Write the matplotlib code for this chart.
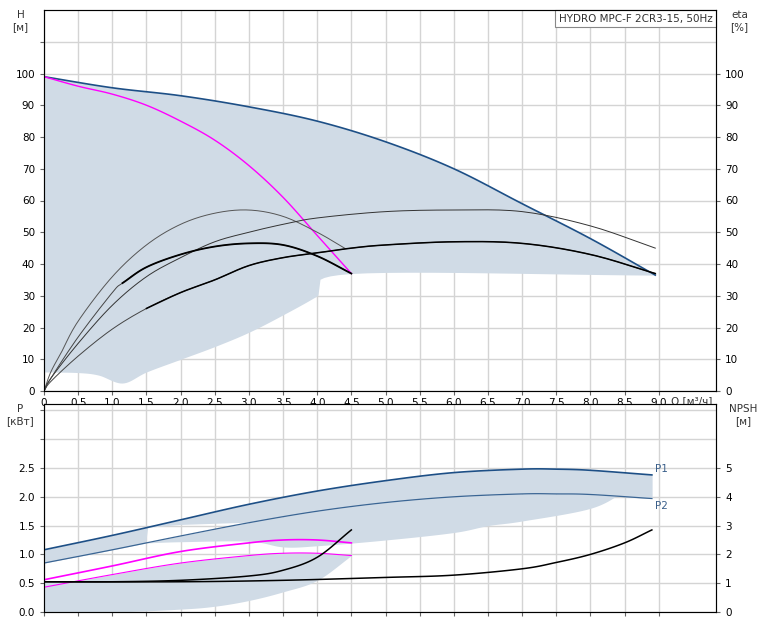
import matplotlib
matplotlib.use("Agg")
import matplotlib.pyplot as plt
import numpy as np

# ---- data (top: H and eta) ----
q_env = [0, 1, 2, 3, 4, 5, 6, 7, 8, 8.95]
h_max = [99, 95.5, 93, 89.5, 85, 78.5, 70, 59, 48, 36.5]
q_low = [0, 0.5, 0.8, 1.15, 1.5, 2, 2.5, 3, 3.5, 4, 4.5, 8.95]
h_low = [6, 5.8, 5, 2.5, 6, 10, 14, 18.5, 24, 30, 37, 36.5]
q_mag = [0, 0.5, 1, 1.5, 2, 2.5, 3, 3.5, 4, 4.5]
h_mag = [99, 96, 93.5, 90, 85, 79, 71, 61, 49, 37]
q_eA = [0, 0.1, 0.25, 0.5, 1, 1.5, 2, 2.5, 3, 3.5, 4, 4.4]
e_A = [0, 6, 12, 22, 36, 46, 52.5, 56, 57, 55, 50, 45]
q_eB = [0, 0.1, 0.5, 1, 1.5, 2, 2.5, 3, 3.5, 4, 5, 6, 7, 8, 8.95]
e_B = [0, 4, 15, 27, 36, 42, 47, 50, 52.5, 54.5, 56.5, 57, 56.5, 52, 45]
q_eC = [0, 0.1, 0.5, 1, 1.5, 2, 2.5, 3, 3.5, 4, 4.5, 5, 6, 7, 8, 8.95]
e_C = [0, 3, 11, 19.5, 26, 31, 35, 39.5, 42, 43.5, 45, 46, 47, 46.5, 43, 37]
q_eE = [0, 0.1, 0.5, 1, 1.15, 1.5, 2, 2.5, 3, 3.5, 4, 4.5]
e_E = [0, 4, 17, 31, 34, 39, 43, 45.5, 46.5, 46, 42.5, 37]

# ---- data (bottom: P and NPSH) ----
q_p = [0, 1, 2, 3, 4, 5, 6, 7, 7.5, 8, 8.9]
p1 = [1.08, 1.33, 1.6, 1.87, 2.1, 2.28, 2.42, 2.48, 2.48, 2.46, 2.38]
p2 = [0.85, 1.08, 1.32, 1.55, 1.75, 1.9, 2.0, 2.05, 2.05, 2.04, 1.97]
q_pm = [0, 1, 2, 3, 3.5, 4, 4.5]
pm1 = [0.56, 0.8, 1.05, 1.2, 1.25, 1.25, 1.2]
pm2 = [0.43, 0.65, 0.85, 0.98, 1.02, 1.02, 0.98]
q_n1 = [0, 1, 2, 3, 3.5, 4, 4.5]
n1 = [1.05, 1.05, 1.1, 1.25, 1.45, 1.9, 2.85]
q_n2 = [0, 2, 3.5, 5, 6, 7, 7.5, 8, 8.5, 8.9]
n2 = [1.05, 1.05, 1.1, 1.2, 1.28, 1.5, 1.72, 2.0, 2.4, 2.85]
q_wedge = [1.5, 2, 3, 3.3]
p_wedge = [1.47, 1.52, 1.56, 1.58]
q_l2 = [1.5, 2, 3, 3.5, 4, 5, 6, 6.5, 7, 8, 8.5, 8.9]
p_l2 = [1.2, 1.22, 1.23, 1.13, 1.15, 1.25, 1.38, 1.5, 1.58, 1.8, 2.1, 2.38]
q_l3 = [0, 1, 2, 2.5, 3, 3.5, 4, 4.5]
p_l3 = [0, 0, 0.05, 0.1, 0.2, 0.35, 0.55, 0.98]

xt = np.arange(0, 9.01, 0.5)
xt_labels = ["0"] + [f"{v:.1f}".replace(".", ",") for v in xt[1:]]

FILL = "#d0dbe6"
BLUE = "#1d4f86"
MAG = "#ff00ff"
GRID = "#d4d4d4"


def smooth(xp, yp, n=12):
    """Catmull-Rom rendering through the given points."""
    x = np.asarray(xp, float); y = np.asarray(yp, float)
    P = np.column_stack([x, y])
    P = np.vstack([2 * P[0] - P[1], P, 2 * P[-1] - P[-2]])
    out = []
    t = np.linspace(0, 1, n, endpoint=False)[:, None]
    for i in range(1, len(P) - 2):
        p0, p1_, p2_, p3 = P[i - 1], P[i], P[i + 1], P[i + 2]
        seg = 0.5 * ((2 * p1_) + (-p0 + p2_) * t + (2 * p0 - 5 * p1_ + 4 * p2_ - p3) * t**2
                     + (-p0 + 3 * p1_ - 3 * p2_ + p3) * t**3)
        out.append(seg)
    out.append(P[-2][None, :])
    out = np.vstack(out)
    return out[:, 0], out[:, 1]


def sinterp(xs, xp, yp):
    sx, sy = smooth(xp, yp)
    return np.interp(xs, sx, sy)


fig = plt.figure(figsize=(7.58, 6.23), dpi=100)
ax = fig.add_axes([44/758, 1-391/623, 672/758, 381/623])
bx = fig.add_axes([44/758, 1-612/623, 672/758, 208/623])

for a in (ax, bx):
    a.set_xlim(0, 672/68.3)
    a.set_xticks(xt)
    a.grid(True, color=GRID, lw=1)
    a.set_axisbelow(True)
    a.tick_params(labelsize=7.5, length=3, color="#666")
    for s in a.spines.values():
        s.set_color("#666")

# top
xs = np.linspace(0, 8.95, 300)
upper = sinterp(xs, q_env, h_max)
lower = sinterp(xs, q_low, h_low)
ax.fill_between(xs, lower, upper, color=FILL, lw=0, zorder=1)
ax.plot(*smooth(q_env, h_max), color=BLUE, lw=1.2, zorder=3)
ax.plot(*smooth(q_mag, h_mag), color=MAG, lw=1, zorder=3)
ax.plot(*smooth(q_eA, e_A), color="#555", lw=0.7, zorder=3)
ax.plot(*smooth(q_eB, e_B), color="#333", lw=0.7, zorder=3)
ax.plot(*smooth(q_eC, e_C), color="#444", lw=0.7, zorder=3)
ax.plot(*smooth(q_eC[4:], e_C[4:]), color="black", lw=1.1, zorder=3)
ax.plot(*smooth(q_eE, e_E), color="#444", lw=0.7, zorder=3)
ax.plot(*smooth(q_eE[4:], e_E[4:]), color="black", lw=1.3, zorder=3)
ax.set_ylim(0, 120)
ax.set_yticks(np.arange(0, 111, 10))
ax.set_yticklabels([str(v) if v <= 100 else "" for v in range(0, 111, 10)])
ax.set_xticklabels(xt_labels)
ax.tick_params(axis="x", pad=2)
axr = ax.twinx()
axr.set_ylim(0, 120)
axr.set_yticks(np.arange(0, 101, 10))
axr.tick_params(labelsize=7.5, length=3, color="#666")
ax.text(-0.035, 1.0, "H\n[м]", transform=ax.transAxes, fontsize=7.5, ha="center", va="top", color="#333")
axr.text(1.035, 1.0, "eta\n[%]", transform=ax.transAxes, fontsize=7.5, ha="center", va="top", color="#333")
ax.text(9.18, -1.5, "Q [м³/ч]", fontsize=7.5, va="top", ha="left", color="#333")
ax.text(0.995, 0.99, "HYDRO MPC-F 2CR3-15, 50Hz", transform=ax.transAxes, fontsize=7.5,
        ha="right", va="top", color="#333",
        bbox=dict(facecolor="white", edgecolor="#888", lw=0.8, pad=2.5))

# bottom
xb = np.linspace(0, 8.9, 300)
P1 = sinterp(xb, q_p, p1)
P2 = sinterp(xb, q_p, p2)
W = np.where((xb >= 1.5) & (xb <= 3.3), np.interp(xb, q_wedge, p_wedge), P2)
W = np.maximum(W, P2)
bx.fill_between(xb, W, P1, color=FILL, lw=0, zorder=1)
xb2 = np.linspace(1.5, 8.9, 200)
bx.fill_between(xb2, sinterp(xb2, q_l2, p_l2), sinterp(xb2, q_p, p2), color=FILL, lw=0, zorder=1)
xb3 = np.linspace(0, 4.5, 150)
up3 = sinterp(xb3, q_pm, pm2)
bx.fill_between(xb3, sinterp(xb3, q_l3, p_l3), np.maximum(up3, 0.52), color=FILL, lw=0, zorder=1)
bx.plot(*smooth(q_p, p1), color=BLUE, lw=1.2, zorder=3)
bx.plot(*smooth(q_p, p2), color="#3a6594", lw=0.9, zorder=3)
bx.plot(*smooth(q_pm, pm1), color=MAG, lw=1.2, zorder=3)
bx.plot(*smooth(q_pm, pm2), color=MAG, lw=0.8, zorder=3)
bx.text(8.95, 2.4, "P1", fontsize=7.5, color="#3a5f8a", va="bottom")
bx.text(8.95, 1.93, "P2", fontsize=7.5, color="#3a5f8a", va="top")
bx.set_ylim(0, 208/57.6)
bx.set_yticks(np.arange(0, 3.6, 0.5))
bx.set_yticklabels([f"{v:.1f}" if v <= 2.5 else "" for v in np.arange(0, 3.6, 0.5)])
bx.set_xticklabels([])
bxr = bx.twinx()
bxr.set_ylim(0, 2 * 208/57.6)
bxr.set_yticks(range(0, 6))
bxr.tick_params(labelsize=7.5, length=3, color="#666")
bxr.plot(*smooth(q_n1, n1), color="black", lw=1.1)
bxr.plot(*smooth(q_n2, n2), color="black", lw=1.1)
bx.text(-0.035, 1.0, "P\n[кВт]", transform=bx.transAxes, fontsize=7.5, ha="center", va="top", color="#333")
bx.text(1.04, 1.0, "NPSH\n[м]", transform=bx.transAxes, fontsize=7.5, ha="center", va="top", color="#333")

fig.savefig("out.png", dpi=100)
